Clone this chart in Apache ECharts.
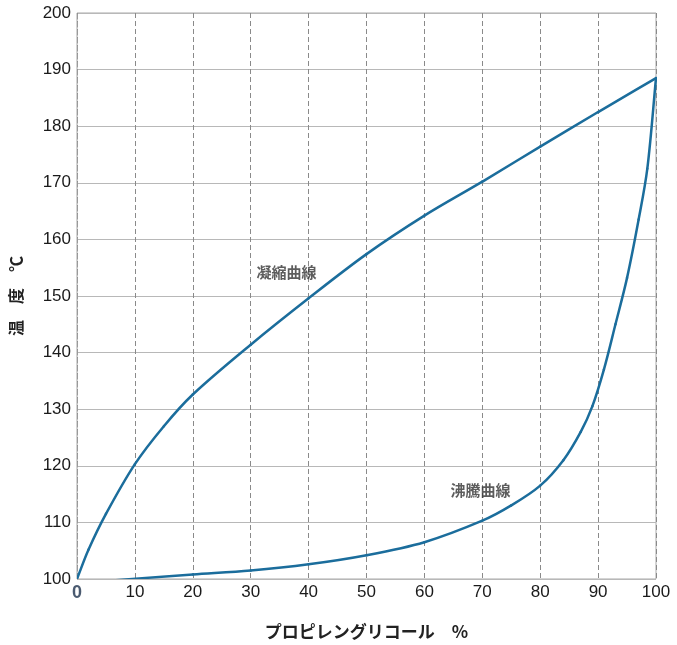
<!DOCTYPE html>
<html>
<head>
<meta charset="utf-8">
<script src="https://cdn.jsdelivr.net/npm/echarts@6/dist/echarts.min.js"></script>
<style>html,body{margin:0;padding:0;background:#fff;}#c{width:677px;height:645px;}</style>
</head>
<body>
<div id="c"></div>
<script>
// Condensation curve (凝縮曲線): [propylene glycol %, temperature °C]
const condensX = [0, 2, 5, 10, 15, 20, 30, 40, 50, 60, 70, 80, 90, 100];
const condensY = [100, 105.2, 111.5, 120.3, 127, 132.6, 141.4, 149.6, 157.4, 164.2, 170.2, 176.4, 182.5, 188.5];
// Boiling curve (沸騰曲線)
const boilX = [6.7, 20, 30, 40, 50, 60, 70, 75, 80, 84, 87, 89, 91, 93, 95, 97, 98.5, 100];
const boilY = [99.8, 100.8, 101.5, 102.6, 104.2, 106.5, 110.3, 113, 116.5, 121, 126, 130.5, 137, 145, 153.2, 163.5, 172.5, 188.5];
// Curve labels
const curveLabels = [
  { name: '凝縮曲線', x: 36.2, y: 154.2 },
  { name: '沸騰曲線', x: 69.7, y: 115.7 }
];
const xTicks = { min: 0, max: 100, interval: 10 };
const yTicks = { min: 100, max: 200, interval: 10 };

const zip = (xs, ys) => xs.map((x, i) => [x, ys[i]]);
const lineColor = '#1b6d9c';

// Smooth curve through the data points (chord-length Catmull-Rom), positioned by the axes
function curveSeries(xs, ys) {
  const data = zip(xs, ys);
  const n = data.length;
  return {
    type: 'custom', data: data, silent: true, clip: true,
    encode: { x: 0, y: 1 },
    renderItem: function (params, api) {
      const i = params.dataIndex;
      if (i >= n - 1) return null;
      const P = k => api.coord(data[Math.max(0, Math.min(n - 1, k))]);
      const p0 = P(i - 1), p1 = P(i), p2 = P(i + 1), p3 = P(i + 2);
      const d = (a, b) => Math.hypot(b[0] - a[0], b[1] - a[1]) || 1e-6;
      const d01 = i === 0 ? 0 : d(p0, p1);
      const d12 = d(p1, p2);
      const d23 = i + 2 > n - 1 ? 0 : d(p2, p3);
      const t1 = [(p2[0] - p0[0]) / (d01 + d12), (p2[1] - p0[1]) / (d01 + d12)];
      const t2 = [(p3[0] - p1[0]) / (d12 + d23), (p3[1] - p1[1]) / (d12 + d23)];
      return {
        type: 'bezierCurve',
        shape: {
          x1: p1[0], y1: p1[1], x2: p2[0], y2: p2[1],
          cpx1: p1[0] + t1[0] * d12 / 3, cpy1: p1[1] + t1[1] * d12 / 3,
          cpx2: p2[0] - t2[0] * d12 / 3, cpy2: p2[1] - t2[1] * d12 / 3
        },
        style: { stroke: lineColor, lineWidth: 2.5, fill: null, lineCap: 'round' }
      };
    }
  };
}

const chart = echarts.init(document.getElementById('c'));
chart.setOption({
  animation: false,
  backgroundColor: '#fff',
  grid: { left: 74, right: 21, top: 13, bottom: 64, show: true, borderColor: '#a8a8a8', borderWidth: 1 },
  xAxis: {
    type: 'value', min: xTicks.min, max: xTicks.max, interval: xTicks.interval,
    name: 'プロピレングリコール　%', nameLocation: 'middle', nameGap: 44,
    nameTextStyle: { fontFamily: 'Noto Sans CJK JP', fontWeight: 'bold', fontSize: 17, color: '#222' },
    axisLine: { show: false },
    axisTick: { show: false },
    axisLabel: {
      margin: 5, fontFamily: 'Liberation Sans', fontSize: 17, color: '#1a1a1a',
      formatter: v => v === 0 ? '{z|0}' : String(v),
      rich: { z: { color: '#4a5a70', fontFamily: 'Liberation Sans', fontSize: 18, fontWeight: 'bold' } }
    },
    splitLine: { show: true, lineStyle: { color: '#8a8a8a', type: [5, 3], width: 1 } }
  },
  yAxis: {
    type: 'value', min: yTicks.min, max: yTicks.max, interval: yTicks.interval,
    name: '温　度　℃', nameLocation: 'middle', nameGap: 53, nameRotate: 90,
    nameTextStyle: { fontFamily: 'Noto Sans CJK JP', fontWeight: 'bold', fontSize: 16, color: '#222' },
    axisLine: { show: true, lineStyle: { color: '#9a9a9a', type: [5, 3] } },
    axisTick: { show: false },
    axisLabel: { margin: 6, fontFamily: 'Liberation Sans', fontSize: 17, color: '#1a1a1a' },
    splitLine: { show: true, lineStyle: { color: '#b8b8b8', width: 1 } }
  },
  series: [
    curveSeries(condensX, condensY),
    curveSeries(boilX, boilY),
    {
      type: 'scatter', data: curveLabels.map(d => ({ name: d.name, value: [d.x, d.y] })),
      symbolSize: 0, silent: true,
      label: {
        show: true, position: 'inside', formatter: p => p.name,
        fontFamily: 'Noto Sans CJK JP', fontWeight: 'bold', fontSize: 15, color: '#333'
      }
    }
  ]
});
</script>
</body>
</html>
